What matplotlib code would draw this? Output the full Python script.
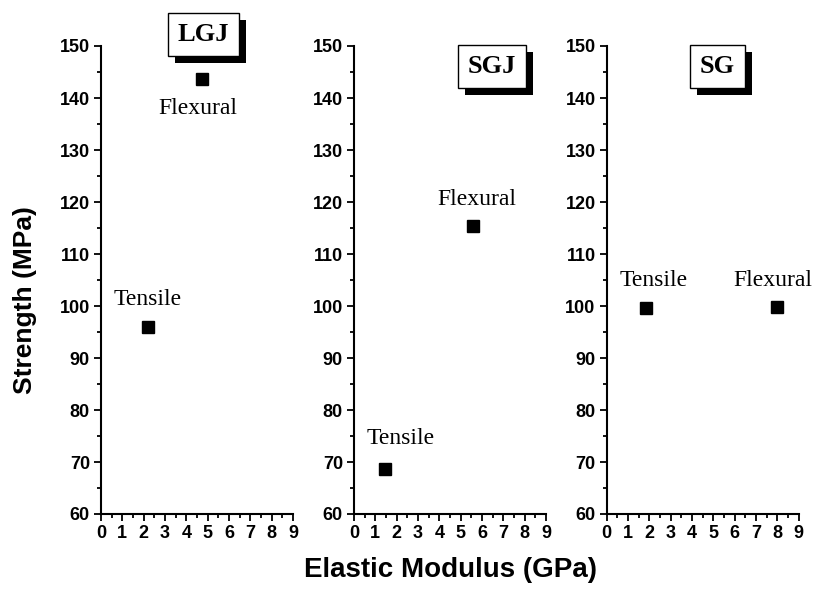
import matplotlib
matplotlib.use('Agg')
import matplotlib.pyplot as plt
import matplotlib.patheffects as pe
from matplotlib.ticker import MultipleLocator

# ===== data =====
panels = ["LGJ", "SGJ", "SG"]
tensile_mod = [2.2, 1.43, 1.84]
tensile_str = [96.0, 68.7, 99.7]
flexural_mod = [4.75, 5.6, 7.97]
flexural_str = [143.7, 115.3, 99.9]

# label positions (data coords, baseline)
tensile_txt = [(2.2, 100.2), (2.19, 73.5), (2.22, 103.8)]
flexural_txt = [(4.56, 137.0), (5.75, 119.4), (7.8, 103.8)]
tag_pos = [(4.8, 152.2), (6.46, 146.0), (5.18, 146.1)]

serif = ["Liberation Serif", "DejaVu Serif"]
sans = ["Liberation Sans", "DejaVu Sans"]

fig = plt.figure(figsize=(8.16, 5.9), dpi=100)
lefts = [101, 354, 606.7]

for i, name in enumerate(panels):
    ax = fig.add_axes([lefts[i] / 816, 76 / 590, 192 / 816, 468 / 590])
    ax.plot([tensile_mod[i]], [tensile_str[i]], 's', color='black', ms=8)
    ax.plot([flexural_mod[i]], [flexural_str[i]], 's', color='black', ms=8)
    ax.set_xlim(0, 9)
    ax.set_ylim(60, 150)
    for s in ["top", "right"]:
        ax.spines[s].set_visible(False)
    for s in ["left", "bottom"]:
        ax.spines[s].set_linewidth(1.5)
    ax.xaxis.set_major_locator(MultipleLocator(1))
    ax.xaxis.set_minor_locator(MultipleLocator(0.5))
    ax.yaxis.set_major_locator(MultipleLocator(10))
    ax.yaxis.set_minor_locator(MultipleLocator(5))
    ax.tick_params(which='major', direction='out', length=5, width=1.3, pad=3)
    ax.tick_params(which='minor', direction='out', length=3, width=1.3)
    for lab in ax.get_xticklabels() + ax.get_yticklabels():
        lab.set_fontfamily(sans)
        lab.set_fontweight('bold')
        lab.set_fontsize(13)

    ax.text(*tensile_txt[i], "Tensile", family=serif, fontsize=17,
            ha='center', va='baseline', clip_on=False)
    ax.text(*flexural_txt[i], "Flexural", family=serif, fontsize=17,
            ha='center', va='baseline', clip_on=False)

    # tag box with black drop shadow
    t = ax.text(*tag_pos[i], name, ha='center', va='center', family=serif,
                fontsize=19, fontweight='bold', color='black', clip_on=False,
                bbox=dict(boxstyle='square,pad=0.38', fc='white', ec='black', lw=1))
    t.get_bbox_patch().set_path_effects([
        pe.SimplePatchShadow(offset=(5, -5), shadow_rgbFace='black', alpha=1),
        pe.Normal()])

fig.text(25 / 816, 1 - 300 / 590, "Strength (MPa)", rotation=90, ha='center',
         va='center', family=sans, fontweight='bold', fontsize=19)
fig.text(451 / 816, 1 - 570 / 590, "Elastic Modulus (GPa)", ha='center',
         va='center', family=sans, fontweight='bold', fontsize=20)

fig.savefig("out.png", dpi=100)
plt.close()
